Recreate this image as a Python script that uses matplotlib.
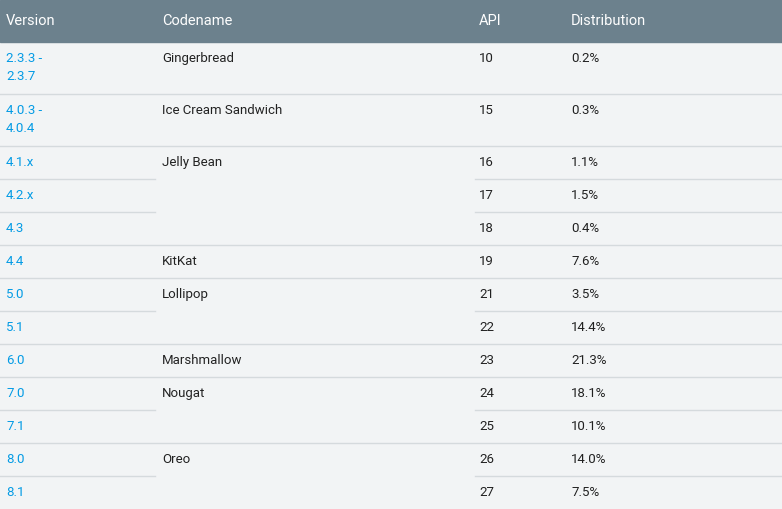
import matplotlib
matplotlib.use("Agg")
import matplotlib.pyplot as plt
from matplotlib.patches import Rectangle

headers = ["Version", "Codename", "API", "Distribution"]
versions = ["2.3.3 -\n2.3.7", "4.0.3 -\n4.0.4", "4.1.x", "4.2.x", "4.3", "4.4", "5.0", "5.1",
            "6.0", "7.0", "7.1", "8.0", "8.1"]
codenames = ["Gingerbread", "Ice Cream Sandwich", "Jelly Bean", "", "", "KitKat", "Lollipop", "",
             "Marshmallow", "Nougat", "", "Oreo", ""]
apis = [10, 15, 16, 17, 18, 19, 21, 22, 23, 24, 25, 26, 27]
distribution = [0.2, 0.3, 1.1, 1.5, 0.4, 7.6, 3.5, 14.4, 21.3, 18.1, 10.1, 14.0, 7.5]

W, H = 782, 509
fig = plt.figure(figsize=(W/100, H/100), dpi=100)
ax = fig.add_axes([0, 0, 1, 1])
ax.set_xlim(0, W); ax.set_ylim(H, 0); ax.axis("off")
ax.add_patch(Rectangle((0, 0), W, H, color="#f2f4f5", zorder=0))
hdr_h = 42
ax.add_patch(Rectangle((0, 0), W, hdr_h, color="#6c818d", zorder=1))
colx = [6, 162, 479, 571]
font = "Roboto"
for x, h in zip(colx, headers):
    ax.text(x, hdr_h/2, h, color="white", fontsize=10.5, family=font, va="center", ha="left")

y = hdr_h
line_c = "#d5dadd"
for i, v in enumerate(versions):
    nl = v.count("\n") + 1
    rh = 33 if nl == 1 else 52
    ax.text(colx[0], y + 10, v, color="#039be5", fontsize=9.5, family=font, va="top",
            ha="left", linespacing=1.5)
    if codenames[i]:
        ax.text(colx[1], y + 10, codenames[i], color="#212121", fontsize=9.5, family=font, va="top")
    ax.text(colx[2], y + 10, str(apis[i]), color="#212121", fontsize=9.5, family=font, va="top")
    ax.text(colx[3], y + 10, f"{distribution[i]:.1f}%", color="#212121", fontsize=9.5, family=font, va="top")
    y += rh
    if i < len(versions) - 1:
        if codenames[i + 1]:
            ax.plot([0, W], [y, y], color=line_c, lw=1, zorder=2)
        else:
            ax.plot([0, 155], [y, y], color=line_c, lw=1, zorder=2)
            ax.plot([475, W], [y, y], color=line_c, lw=1, zorder=2)

fig.savefig("out.png", dpi=100)
